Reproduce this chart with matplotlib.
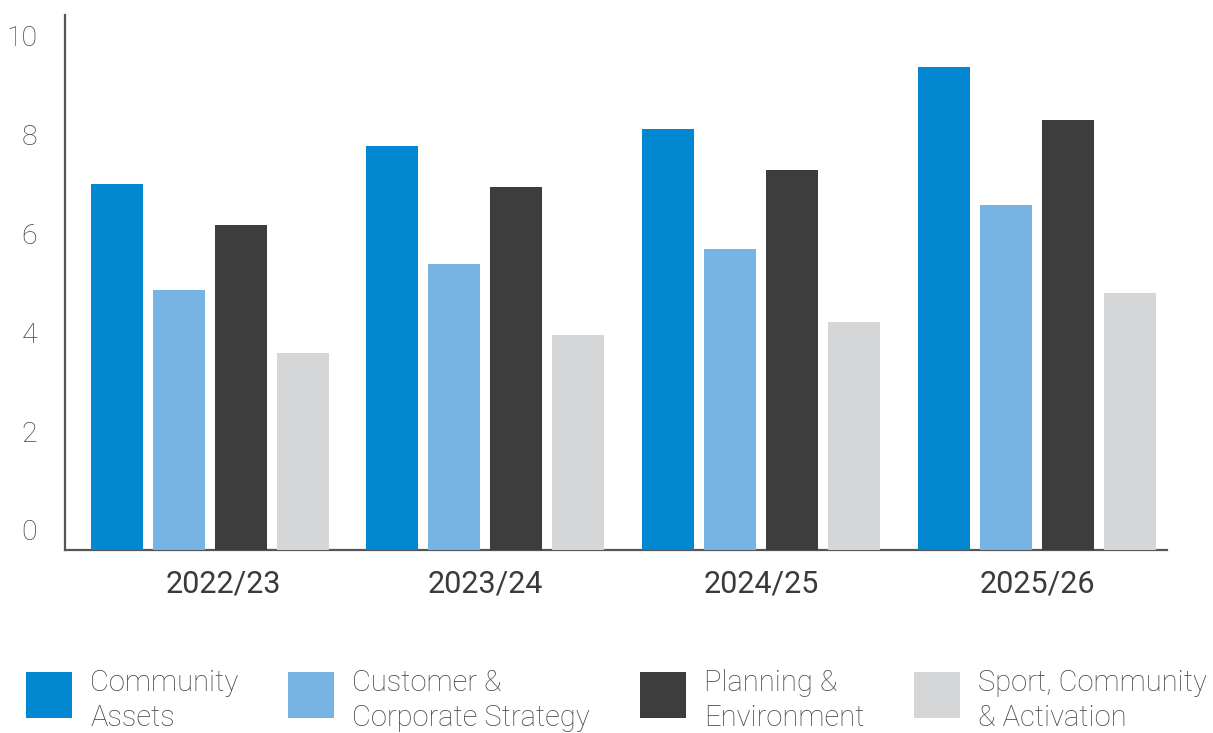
import matplotlib
matplotlib.use("Agg")
import matplotlib.pyplot as plt
import matplotlib.transforms as mtransforms
from matplotlib.patches import Patch
import numpy as np

plt.rcParams['font.family'] = ['Roboto', 'DejaVu Sans']

years = ["2022/23", "2023/24", "2024/25", "2025/26"]
series_names = [
    "Community\nAssets",
    "Customer &\nCorporate Strategy",
    "Planning &\nEnvironment",
    "Sport, Community\n& Activation",
]
community_assets = [7.39, 8.16, 8.51, 9.76]
customer_corporate = [5.25, 5.78, 6.08, 6.97]
planning_environment = [6.57, 7.33, 7.68, 8.69]
sport_community = [3.98, 4.34, 4.61, 5.19]
y_ticks = [0, 2, 4, 6, 8, 10]

colors = ["#0288D1", "#78B4E3", "#3D3D3D", "#D5D6D8"]
series = [community_assets, customer_corporate, planning_environment, sport_community]

W, H, DPI = 1213, 733, 100
fig = plt.figure(figsize=(W / DPI, H / DPI), dpi=DPI)
ax = fig.add_axes([65 / W, 1 - 550 / H, (1167 - 65) / W, (550 - 15) / H])

x = np.arange(len(years))
step = 0.2248
width = 0.1885
for i, (vals, col) in enumerate(zip(series, colors)):
    ax.bar(x + (i - 1.5) * step, vals, width=width, color=col, zorder=3,
           label=series_names[i])

ax.set_xlim(-0.524, 3.471)
ax.set_ylim(0, 10.81)

for side in ("top", "right"):
    ax.spines[side].set_visible(False)
for side in ("left", "bottom"):
    ax.spines[side].set_color("#555555")
    ax.spines[side].set_linewidth(1.6)


def shift(label, dx_px, dy_px):
    label.set_transform(label.get_transform() +
                        mtransforms.ScaledTranslation(dx_px / DPI, dy_px / DPI,
                                                      fig.dpi_scale_trans))


ax.set_yticks(y_ticks)
ax.set_yticklabels([str(t) for t in y_ticks])
ax.tick_params(axis="y", length=0, pad=20, labelsize=20.5, labelcolor="#444444")
for lab in ax.get_yticklabels():
    lab.set_fontweight("light")
    shift(lab, 0, 20)

ax.set_xticks(x)
ax.set_xticklabels(years)
ax.tick_params(axis="x", length=0, pad=14, labelsize=22, labelcolor="#3A3A3A")
for lab in ax.get_xticklabels():
    lab.set_fontweight("normal")
shift(ax.get_xticklabels()[0], 14, 0)

handles = [Patch(facecolor=c, edgecolor="none") for c in colors]
fs = 21
box_pt = 46 * 72 / DPI
hh = (box_pt / fs - 0.245) / 0.65
leg = fig.legend(handles, series_names, loc="upper left",
                 bbox_to_anchor=(26 / W, 1 - 662 / H), ncol=4, frameon=False,
                 handlelength=box_pt / fs, handleheight=hh,
                 handletextpad=13 / fs, columnspacing=36 / fs, borderpad=0,
                 borderaxespad=0, labelcolor="#444444",
                 prop={"weight": "light", "size": fs})
for t in leg.get_texts():
    t.set_linespacing(1.3)
    shift(t, 0, -7)

fig.savefig("out.png", dpi=DPI)
